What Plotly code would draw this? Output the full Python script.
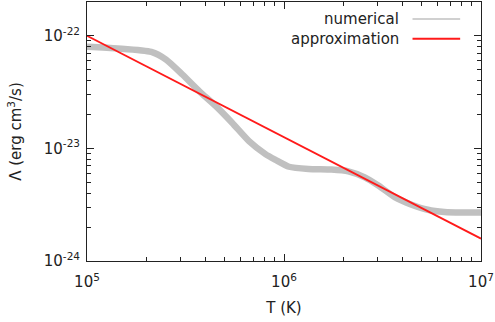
import plotly.graph_objects as go

# numerical cooling curve
T_num = [1.0e5, 1.43e5, 2.12e5, 2.52e5, 3.05e5, 3.72e5, 4.51e5, 5.45e5, 6.64e5,
         8.05e5, 9.06e5, 1.06e6, 1.33e6, 1.74e6, 2.12e6, 2.57e6, 3.01e6, 3.65e6,
         4.41e6, 5.37e6, 6.52e6, 7.87e6, 1.0e7]
L_num = [8.0e-23, 7.73e-23, 7.2e-23, 6.15e-23, 4.53e-23, 3.21e-23, 2.37e-23,
         1.69e-23, 1.16e-23, 8.89e-24, 7.9e-24, 6.87e-24, 6.56e-24, 6.48e-24,
         6.25e-24, 5.53e-24, 4.68e-24, 3.69e-24, 3.18e-24, 2.85e-24, 2.72e-24,
         2.69e-24, 2.70e-24]

# power-law approximation
T_app = [1.0e5, 1.0e7]
L_app = [1.0e-22, 1.58e-24]

x_tickvals = [1e5, 1e6, 1e7]
x_ticktext = ["10<sup>5</sup>", "10<sup>6</sup>", "10<sup>7</sup>"]
y_tickvals = [1e-24, 1e-23, 1e-22]
y_ticktext = ["10<sup>-24</sup>", "10<sup>-23</sup>", "10<sup>-22</sup>"]

GRAY = "#c0c0c0"
RED = "#ff1a1a"
INK = "#222222"
FONT = "DejaVu Sans"

fig = go.Figure()
fig.add_trace(go.Scatter(x=T_num, y=L_num, mode="lines", name="numerical",
                         line=dict(color=GRAY, width=6.5, shape="spline", smoothing=0.6),
                         showlegend=False))
fig.add_trace(go.Scatter(x=T_app, y=L_app, mode="lines", name="approximation",
                         line=dict(color=RED, width=1.8), showlegend=False))

axis_common = dict(
    type="log", showgrid=False, zeroline=False, showline=True, linecolor=INK,
    linewidth=1, mirror="allticks", ticks="inside", ticklen=7, tickcolor=INK,
    tickfont=dict(family=FONT, size=15, color=INK), ticklabeloverflow="allow",
    minor=dict(ticks="inside", ticklen=4, tickcolor=INK, dtick="D1", showgrid=False),
)

fig.update_xaxes(range=[5, 7], tickvals=x_tickvals, ticktext=x_ticktext,
                 ticklabelstandoff=7,
                 title=dict(text="T (K)", font=dict(family=FONT, size=15, color=INK), standoff=12),
                 **axis_common)
fig.update_yaxes(range=[-24, -21.7], tickvals=y_tickvals, ticktext=y_ticktext,
                 ticklabelstandoff=3,
                 title=dict(text="Λ (erg cm<sup>3</sup>/s)", font=dict(family=FONT, size=15, color=INK), standoff=18),
                 **axis_common)

# legend drawn on the right side of the labels (gnuplot style)
legend_items = [("numerical", GRAY, 1.6, 18), ("approximation", RED, 2.0, 38)]
W, H = 495, 322
ml, mr, mt, mb = 87, 11, 1, 61
pw, ph = W - ml - mr, H - mt - mb
for text, col, lw, ypix in legend_items:
    yp = 1 - (ypix - mt) / ph
    x_text = (403 - ml) / pw
    fig.add_annotation(x=x_text, y=yp, xref="paper", yref="paper", text=text,
                       showarrow=False, xanchor="right", yanchor="middle",
                       font=dict(family=FONT, size=15, color=INK))
    fig.add_shape(type="line", xref="paper", yref="paper",
                  x0=(415 - ml) / pw, x1=(463 - ml) / pw, y0=yp, y1=yp,
                  line=dict(color=col, width=lw))

fig.update_layout(width=W, height=H, margin=dict(l=ml, r=mr, t=mt, b=mb),
                  paper_bgcolor="white", plot_bgcolor="white",
                  font=dict(family=FONT, size=15, color=INK))

fig.write_html("out.html")
